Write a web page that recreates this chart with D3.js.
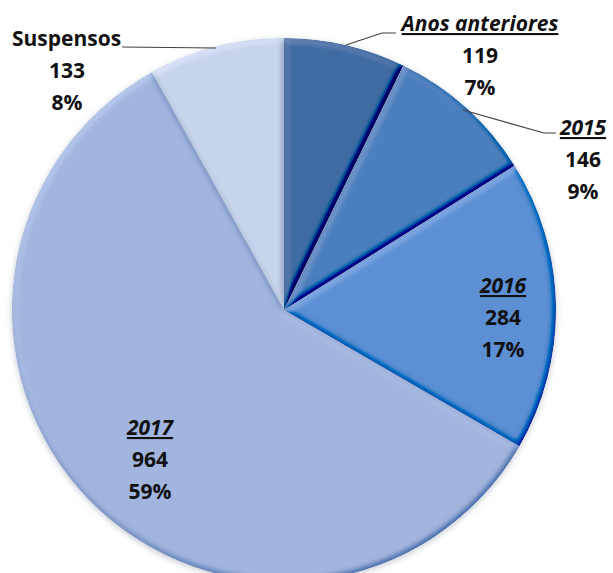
<!DOCTYPE html>
<html><head><meta charset="utf-8">
<script src="https://cdn.jsdelivr.net/npm/d3@7"></script>
<style>body{margin:0;background:#fff}svg{display:block}</style></head>
<body><svg id="c" width="613" height="573"></svg>
<script>
// ---- data ----
const categories = ["Anos anteriores", "2015", "2016", "2017", "Suspensos"];
const values = [119, 146, 284, 964, 133];
const colors = ["#3F6BA3", "#4B7EBC", "#5B8FD3", "#A1B5DE", "#C8D4EC"];
const underlined = [true, true, true, true, false];

// ---- layout (label anchors, line spacing, leaders) ----
const labelPos = [[480, 31], [583, 135], [503, 293], [150, 435], [67, 46]];
const leaders = [
  [[346, 45], [382, 33], [396, 33]],
  [[463, 110], [544, 133], [556, 133]],
  null, null,
  [[216, 48], [122, 47]]
];
const cx = 284, cy = 310, R = 272;

const svg = d3.select("#c");
const defs = svg.append("defs");

const bevel = defs.append("filter").attr("id", "bevel")
  .attr("x", "-5%").attr("y", "-5%").attr("width", "110%").attr("height", "110%");
bevel.append("feGaussianBlur").attr("in", "SourceAlpha").attr("stdDeviation", 3).attr("result", "blur");
const dl = bevel.append("feDiffuseLighting").attr("in", "blur").attr("surfaceScale", 3.5)
  .attr("diffuseConstant", 1).attr("lighting-color", "#fff").attr("result", "diff");
dl.append("feDistantLight").attr("azimuth", 235).attr("elevation", 55);
bevel.append("feComposite").attr("in", "SourceGraphic").attr("in2", "diff")
  .attr("operator", "arithmetic").attr("k1", 0).attr("k2", 1).attr("k3", 0.5).attr("k4", -0.5 * Math.sin(55 * Math.PI / 180))
  .attr("result", "lit");
bevel.append("feComposite").attr("in", "lit").attr("in2", "SourceAlpha").attr("operator", "in");

const shadow = defs.append("filter").attr("id", "shadow")
  .attr("x", "-10%").attr("y", "-10%").attr("width", "120%").attr("height", "120%");
shadow.append("feGaussianBlur").attr("stdDeviation", 3);

const total = d3.sum(values);
const pct = d3.format(".0%");
const data = categories.map((c, i) => ({ cat: c, value: values[i], color: colors[i], u: underlined[i], i }));

const pie = d3.pie().value(d => d.value).sort(null);
const arc = d3.arc().innerRadius(0).outerRadius(R);
const arcs = pie(data);

const g = svg.append("g").attr("transform", `translate(${cx},${cy})`);
g.append("circle").attr("r", R).attr("cx", 0).attr("cy", 2).attr("fill", "#8a94a6")
  .attr("opacity", 0.5).attr("filter", "url(#shadow)");

g.selectAll("path.slice").data(arcs).join("path")
  .attr("class", "slice")
  .attr("d", arc)
  .attr("fill", d => d.data.color)
  .attr("filter", "url(#bevel)");

// leader lines
const line = d3.line();
svg.selectAll("path.leader").data(leaders.filter(l => l)).join("path")
  .attr("class", "leader").attr("d", line)
  .attr("fill", "none").attr("stroke", "#404040").attr("stroke-width", 1.2);

// labels
const font = "'Open Sans', Lato, sans-serif";
const lab = svg.selectAll("g.lab").data(arcs).join("g").attr("class", "lab")
  .attr("transform", d => `translate(${labelPos[d.index][0]},${labelPos[d.index][1]})`)
  .attr("font-family", font).attr("font-size", 21).attr("font-weight", 700)
  .attr("fill", "#111").attr("text-anchor", d => d.index === 4 ? "start" : "middle");

lab.append("text")
  .attr("x", d => d.index === 4 ? -55 : 0)
  .attr("font-style", d => d.data.u ? "italic" : "normal")
  .attr("text-decoration", d => d.data.u ? "underline" : "none")
  .text(d => d.data.cat);
lab.append("text").attr("text-anchor", "middle").attr("y", 32).text(d => d.data.value);
lab.append("text").attr("text-anchor", "middle").attr("y", 64).text(d => pct(d.data.value / total));
</script>
</body></html>
